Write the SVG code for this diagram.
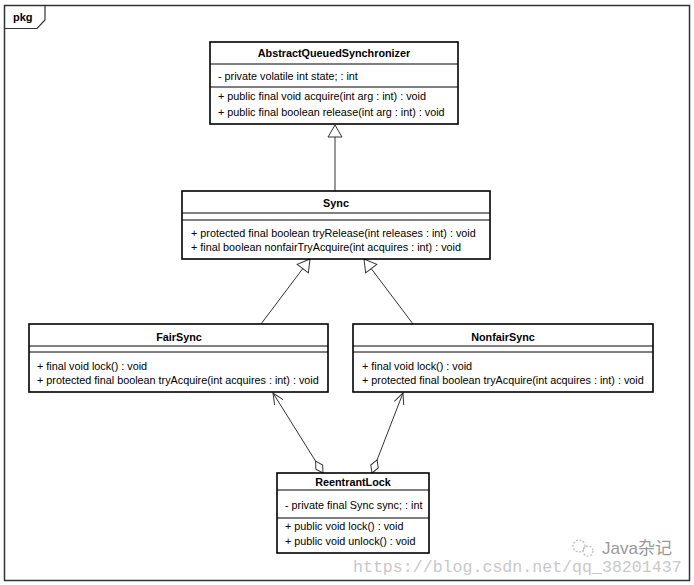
<svg xmlns="http://www.w3.org/2000/svg" width="694" height="585" viewBox="0 0 694 585">
<defs>
<style>
.box{fill:#fff;stroke:#000;stroke-width:1.6}
.div{stroke:#000;stroke-width:1}
.t{font-family:"Liberation Sans",Arial,sans-serif;font-size:10.8px;fill:#000}
.b{font-weight:bold;text-anchor:middle}
.ln{fill:none;stroke:#333;stroke-width:1}
</style>
<marker id="tri" markerUnits="userSpaceOnUse" markerWidth="16" markerHeight="16" viewBox="-14 -8 16 16" refX="0" refY="0" orient="auto">
<polygon points="0,0 -12,-7 -12,7" fill="#fff" stroke="#333" stroke-width="1"/>
</marker>
<marker id="open" markerUnits="userSpaceOnUse" markerWidth="16" markerHeight="16" viewBox="-14 -8 16 16" refX="0" refY="0" orient="auto">
<polyline points="-11,-5 0,0 -11,5" fill="none" stroke="#333" stroke-width="1"/>
</marker>
<marker id="dia" markerUnits="userSpaceOnUse" markerWidth="18" markerHeight="12" viewBox="-1 -6 18 12" refX="0" refY="0" orient="auto">
<polygon points="0,0 7,-4 14,0 7,4" fill="#fff" stroke="#333" stroke-width="1"/>
</marker>
</defs>
<rect width="694" height="585" fill="#fff"/>
<g id="frame">
<rect x="4.5" y="5.5" width="685" height="575" fill="none" stroke="#333" stroke-width="1.5"/>
<polyline points="4.5,28.5 37,28.5 45,20 45,5.5" fill="none" stroke="#333" stroke-width="1.2"/>
<text class="t" x="13" y="21" style="font-weight:bold;font-size:11px">pkg</text>
</g>
<g id="connectors">
<line class="ln" x1="335" y1="191" x2="335" y2="125" marker-end="url(#tri)"/>
<line class="ln" x1="261" y1="324" x2="310" y2="259" marker-end="url(#tri)"/>
<line class="ln" x1="413" y1="324" x2="364" y2="259" marker-end="url(#tri)"/>
<line class="ln" x1="323" y1="473" x2="273" y2="393" marker-start="url(#dia)" marker-end="url(#open)"/>
<line class="ln" x1="372" y1="473" x2="403" y2="393" marker-start="url(#dia)" marker-end="url(#open)"/>
</g>
<g id="AbstractQueuedSynchronizer">
<rect class="box" x="210" y="42" width="248" height="82"/>
<line class="div" x1="210" y1="64" x2="458" y2="64"/>
<line class="div" x1="210" y1="87" x2="458" y2="87"/>
<text class="t b" x="334" y="57">AbstractQueuedSynchronizer</text>
<text class="t" x="218" y="80">- private volatile int state; : int</text>
<text class="t" x="218" y="100">+ public final void acquire(int arg : int) : void</text>
<text class="t" x="218" y="116">+ public final boolean release(int arg : int) : void</text>
</g>
<g id="Sync">
<rect class="box" x="182" y="191" width="308" height="68"/>
<line class="div" x1="182" y1="213" x2="490" y2="213"/>
<line class="div" x1="182" y1="220" x2="490" y2="220"/>
<text class="t b" x="336" y="207">Sync</text>
<text class="t" x="191" y="237">+ protected final boolean tryRelease(int releases : int) : void</text>
<text class="t" x="191" y="251">+ final boolean nonfairTryAcquire(int acquires : int) : void</text>
</g>
<g id="FairSync">
<rect class="box" x="29" y="324" width="299" height="68"/>
<line class="div" x1="29" y1="346" x2="328" y2="346"/>
<line class="div" x1="29" y1="352" x2="328" y2="352"/>
<text class="t b" x="179" y="341">FairSync</text>
<text class="t" x="37" y="370">+ final void lock() : void</text>
<text class="t" x="37" y="384">+ protected final boolean tryAcquire(int acquires : int) : void</text>
</g>
<g id="NonfairSync">
<rect class="box" x="353" y="324" width="300" height="68"/>
<line class="div" x1="353" y1="346" x2="653" y2="346"/>
<line class="div" x1="353" y1="352" x2="653" y2="352"/>
<text class="t b" x="503" y="341">NonfairSync</text>
<text class="t" x="362" y="370">+ final void lock() : void</text>
<text class="t" x="362" y="384">+ protected final boolean tryAcquire(int acquires : int) : void</text>
</g>
<g id="ReentrantLock">
<rect class="box" x="277" y="473" width="152" height="80"/>
<line class="div" x1="277" y1="490" x2="429" y2="490"/>
<line class="div" x1="277" y1="518" x2="429" y2="518"/>
<text class="t b" x="353" y="486">ReentrantLock</text>
<text class="t" x="285" y="509">- private final Sync sync; : int</text>
<text class="t" x="285" y="530">+ public void lock() : void</text>
<text class="t" x="285" y="545">+ public void unlock() : void</text>
</g>
<g id="watermark">
<g fill="none" stroke="#bbb" stroke-width="1.2" stroke-dasharray="2 1.5">
<circle cx="579" cy="546" r="6"/>
<circle cx="588" cy="551" r="5"/>
</g>
<text x="602" y="554" style="font-family:'Liberation Sans','Noto Sans CJK SC',sans-serif;font-size:17px;fill:#999">Java杂记</text>
<text x="353" y="572" style="font-family:'Liberation Mono',monospace;font-size:16.6px;fill:#c8c8c8">https://blog.csdn.net/qq_38201437</text>
</g>
</svg>
